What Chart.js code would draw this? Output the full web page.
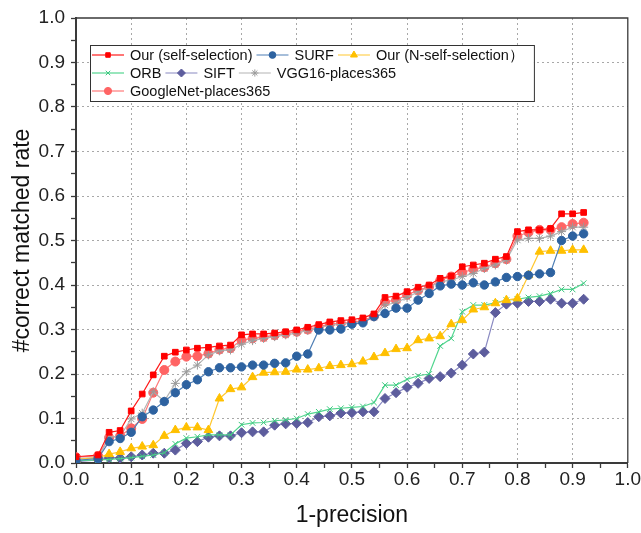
<!DOCTYPE html>
<html>
<head>
<meta charset="utf-8">
<script src="https://cdn.jsdelivr.net/npm/chart.js@4/dist/chart.umd.min.js"></script>
<style>
  html, body { margin: 0; padding: 0; background: #fff; }
  canvas { display: block; }
</style>
</head>
<body>
<canvas id="myChart" width="641" height="533"></canvas>
<script>
// x positions (1-precision)
const xVals = [0, 0.04, 0.06, 0.08, 0.10, 0.12, 0.14, 0.16, 0.18, 0.20, 0.22, 0.24, 0.26, 0.28, 0.30, 0.32,
  0.34, 0.36, 0.38, 0.40, 0.42, 0.44, 0.46, 0.48, 0.50, 0.52, 0.54, 0.56, 0.58, 0.60, 0.62, 0.64,
  0.66, 0.68, 0.70, 0.72, 0.74, 0.76, 0.78, 0.80, 0.82, 0.84, 0.86, 0.88, 0.90, 0.92];

const ourSelf = [0.014, 0.018, 0.069, 0.073, 0.117, 0.155, 0.198, 0.240, 0.249, 0.254, 0.258, 0.260, 0.263, 0.265, 0.288, 0.290,
  0.290, 0.292, 0.295, 0.299, 0.305, 0.311, 0.317, 0.320, 0.322, 0.326, 0.335, 0.372, 0.375, 0.385, 0.395, 0.400,
  0.415, 0.420, 0.441, 0.445, 0.449, 0.458, 0.464, 0.520, 0.524, 0.524, 0.527, 0.560, 0.560, 0.563];

const surf = [0.006, 0.010, 0.048, 0.055, 0.069, 0.104, 0.119, 0.138, 0.158, 0.176, 0.187, 0.205, 0.214, 0.214, 0.216, 0.220,
  0.220, 0.224, 0.225, 0.240, 0.245, 0.299, 0.299, 0.301, 0.312, 0.315, 0.329, 0.336, 0.348, 0.348, 0.366, 0.381,
  0.398, 0.402, 0.400, 0.405, 0.400, 0.407, 0.417, 0.419, 0.422, 0.425, 0.428, 0.500, 0.510, 0.515];

const ourNSelf = [0.008, 0.012, 0.020, 0.025, 0.033, 0.037, 0.040, 0.061, 0.074, 0.080, 0.080, 0.074, 0.145, 0.166, 0.170, 0.193,
  0.203, 0.204, 0.205, 0.210, 0.210, 0.213, 0.218, 0.220, 0.222, 0.228, 0.238, 0.247, 0.256, 0.258, 0.276, 0.280,
  0.285, 0.312, 0.321, 0.345, 0.350, 0.359, 0.366, 0.370, 0.422, 0.475, 0.477, 0.477, 0.479, 0.479];

const orb = [0.005, 0.007, 0.008, 0.010, 0.012, 0.015, 0.018, 0.023, 0.043, 0.056, 0.059, 0.063, 0.063, 0.063, 0.086, 0.090,
  0.091, 0.095, 0.097, 0.100, 0.110, 0.115, 0.121, 0.123, 0.125, 0.127, 0.136, 0.175, 0.175, 0.188, 0.196, 0.200,
  0.263, 0.280, 0.340, 0.355, 0.355, 0.360, 0.366, 0.368, 0.372, 0.375, 0.381, 0.390, 0.390, 0.404];

const sift = [0.003, 0.007, 0.012, 0.011, 0.014, 0.018, 0.022, 0.022, 0.029, 0.044, 0.048, 0.058, 0.061, 0.061, 0.068, 0.070,
  0.070, 0.085, 0.088, 0.089, 0.091, 0.104, 0.106, 0.112, 0.113, 0.115, 0.115, 0.145, 0.158, 0.170, 0.179, 0.190,
  0.194, 0.202, 0.220, 0.245, 0.249, 0.338, 0.357, 0.359, 0.363, 0.363, 0.368, 0.359, 0.359, 0.368];

const vgg16 = [0.010, 0.012, 0.058, 0.060, 0.099, 0.112, 0.160, 0.139, 0.179, 0.205, 0.220, 0.243, 0.252, 0.254, 0.267, 0.275,
  0.280, 0.284, 0.288, 0.292, 0.298, 0.304, 0.309, 0.312, 0.314, 0.318, 0.328, 0.355, 0.360, 0.372, 0.385, 0.395,
  0.407, 0.411, 0.419, 0.426, 0.437, 0.445, 0.456, 0.501, 0.505, 0.505, 0.510, 0.520, 0.530, 0.530];

const googleNet = [0.013, 0.016, 0.057, 0.061, 0.078, 0.099, 0.158, 0.209, 0.228, 0.239, 0.240, 0.246, 0.255, 0.258, 0.276, 0.280,
  0.283, 0.287, 0.291, 0.295, 0.300, 0.306, 0.312, 0.314, 0.316, 0.320, 0.330, 0.362, 0.366, 0.378, 0.388, 0.396,
  0.410, 0.419, 0.428, 0.435, 0.440, 0.449, 0.458, 0.510, 0.518, 0.524, 0.524, 0.530, 0.537, 0.540];

const seriesNames = ['Our (self-selection)', 'SURF', 'Our (N-self-selection\uFF09', 'ORB', 'SIFT', 'VGG16-places365', 'GoogleNet-places365'];
const legendRows = [[0, 1, 2], [3, 4, 5], [6]];

const FONT = '"Liberation Sans", Arial, Helvetica, sans-serif';

function pts(ys) {
  return xVals.map((x, i) => ({ x: x, y: ys[i] }));
}

function series(label, ys, line, fill, style, r) {
  return {
    label: label,
    data: pts(ys),
    borderColor: line,
    backgroundColor: fill,
    pointBackgroundColor: fill,
    pointBorderColor: fill,
    pointBorderWidth: 1,
    pointStyle: style,
    pointRadius: r,
    borderWidth: 1.2,
    tension: 0,
    fill: false
  };
}

const isMajor = v => Math.abs(v * 10 - Math.round(v * 10)) < 1e-6;

// top / right frame
const frame = {
  id: 'frame',
  afterDraw(chart) {
    const { ctx, chartArea: a } = chart;
    ctx.save();
    ctx.strokeStyle = '#3a3a3a';
    ctx.lineWidth = 1.3;
    ctx.beginPath();
    ctx.moveTo(a.left, a.top);
    ctx.lineTo(a.right, a.top);
    ctx.lineTo(a.right, a.bottom);
    ctx.stroke();
    ctx.restore();
  }
};

// legend box in the top-left, flowed like the original
const legendBox = {
  id: 'legendBox',
  afterDraw(chart) {
    const { ctx, chartArea: a } = chart;
    const sets = chart.data.datasets;
    const left = a.left + 14, top = a.top + 27, rowH = 18, sample = 32;
    ctx.save();
    ctx.font = '14.5px ' + FONT;
    let maxX = 0;
    const placed = legendRows.map((row, r) => {
      let x = left + 2;
      return row.map(i => {
        const item = { i: i, x: x, y: top + 10 + r * rowH };
        x += sample + 6 + ctx.measureText(sets[i].label).width + 4;
        maxX = Math.max(maxX, x);
        return item;
      });
    });
    ctx.fillStyle = '#fff';
    ctx.strokeStyle = '#333';
    ctx.lineWidth = 1;
    ctx.fillRect(left, top, maxX - left + 6, legendRows.length * rowH + 2);
    ctx.strokeRect(left + 0.5, top + 0.5, maxX - left + 6, legendRows.length * rowH + 2);
    placed.flat().forEach(it => {
      const ds = sets[it.i];
      ctx.strokeStyle = ds.borderColor;
      ctx.lineWidth = 1.2;
      ctx.beginPath();
      ctx.moveTo(it.x, it.y);
      ctx.lineTo(it.x + sample, it.y);
      ctx.stroke();
      if (Chart.helpers && Chart.helpers.drawPoint) {
        ctx.fillStyle = ds.pointBackgroundColor;
        ctx.strokeStyle = ds.pointBorderColor;
        ctx.lineWidth = 1;
        Chart.helpers.drawPoint(ctx, {
          pointStyle: ds.pointStyle, radius: ds.pointRadius * 0.8, rotation: 0, borderWidth: 1
        }, it.x + sample / 2, it.y);
      }
      ctx.fillStyle = '#111';
      ctx.textBaseline = 'middle';
      ctx.textAlign = 'left';
      ctx.fillText(ds.label, it.x + sample + 6, it.y + 1);
    });
    ctx.restore();
  }
};

const axisCommon = {
  type: 'linear',
  min: 0,
  max: 1,
  grid: {
    color: c => (c.tick && isMajor(c.tick.value) && c.tick.value > 0.001 && c.tick.value < 0.999) ? '#a8a8a8' : 'rgba(0,0,0,0)',
    lineWidth: 1,
    tickColor: '#3a3a3a',
    tickWidth: 1.3,
    tickLength: 5
  },
  border: { display: true, color: '#3a3a3a', width: 2, dash: [2, 3] }
};

var ctx = document.getElementById('myChart').getContext('2d');

new Chart(ctx, {
  type: 'line',
  data: {
    datasets: [
      series(seriesNames[0], ourSelf, '#ff1a1a', '#ff0000', 'rect', 4),
      series(seriesNames[1], surf, '#4f7fb5', '#2d62a0', 'circle', 4.2),
      series(seriesNames[2], ourNSelf, '#ffc830', '#ffc000', 'triangle', 5),
      series(seriesNames[3], orb, '#52d68f', '#3cc87f', 'crossRot', 4),
      series(seriesNames[4], sift, '#8a8ac2', '#5d5d9d', 'rectRot', 5),
      series(seriesNames[5], vgg16, '#b4b4b4', '#9a9a9a', 'star', 4.5),
      series(seriesNames[6], googleNet, '#ff7a7a', '#ff6464', 'circle', 4.5)
    ]
  },
  options: {
    responsive: false,
    animation: false,
    layout: { padding: { top: 18, right: 13, left: 0, bottom: 0 } },
    plugins: {
      legend: { display: false },
      tooltip: { enabled: false }
    },
    scales: {
      x: Object.assign({}, axisCommon, {
        ticks: {
          stepSize: 0.05,
          autoSkip: false,
          maxRotation: 0,
          padding: 0,
          color: '#222',
          font: { size: 19, family: FONT },
          callback: v => isMajor(v) ? v.toFixed(1) : ''
        },
        title: {
          display: true,
          text: '1-precision',
          color: '#111',
          font: { size: 23, family: FONT },
          padding: { top: 0, bottom: 4 }
        },
        afterFit: s => { s.height = 70; }
      }),
      y: Object.assign({}, axisCommon, {
        ticks: {
          stepSize: 0.05,
          autoSkip: false,
          padding: 6,
          color: '#222',
          font: { size: 19, family: FONT },
          callback: v => isMajor(v) ? v.toFixed(1) : ''
        },
        title: {
          display: true,
          text: '#correct matched rate',
          color: '#111',
          font: { size: 23, family: FONT },
          padding: { top: 9, bottom: 0 }
        },
        afterFit: s => { s.width = 76; }
      })
    }
  },
  plugins: [frame, legendBox]
});
</script>
</body>
</html>
